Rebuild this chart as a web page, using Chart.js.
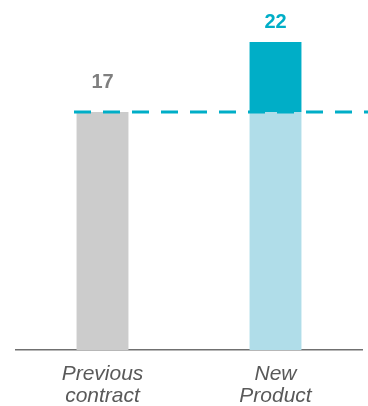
<!DOCTYPE html>
<html>
<head>
<meta charset="utf-8">
<script src="https://cdn.jsdelivr.net/npm/chart.js@4"></script>
<style>
  html, body { margin: 0; padding: 0; background: #fff; }
  #wrap { width: 368px; height: 406px; position: relative; }
</style>
</head>
<body>
<div id="wrap"><canvas id="myChart"></canvas></div>
<script>
// data
const categories = [["Previous", "contract"], ["New", "Product"]];
const baseValues = [17, 17];      // grey / light blue part
const extraValues = [null, 5];    // dark teal increase
const totals = [17, 22];
const referenceLevel = 17;        // dashed line

const teal = "#00aec7";
const grey = "#cccccc";
const lightBlue = "#b0dde9";

// dashed reference line + total labels
const extras = {
  id: "extras",
  afterDatasetsDraw(chart) {
    const ctx = chart.ctx;
    const y = chart.scales.y.getPixelForValue(referenceLevel);
    ctx.save();
    ctx.strokeStyle = teal;
    ctx.lineWidth = 3;
    ctx.setLineDash([17, 12]);
    ctx.beginPath();
    ctx.moveTo(74, y);
    ctx.lineTo(chart.width, y);
    ctx.stroke();
    ctx.setLineDash([]);

    ctx.font = "bold 20px 'Liberation Sans', Arial, sans-serif";
    ctx.textAlign = "center";
    ctx.textBaseline = "middle";
    const labelColors = ["#7f7f7f", teal];
    const gaps = [30, 20];
    totals.forEach((t, i) => {
      const x = chart.scales.x.getPixelForValue(i);
      const top = chart.scales.y.getPixelForValue(t);
      ctx.fillStyle = labelColors[i];
      ctx.fillText(String(t), x, top - gaps[i]);
    });
    ctx.restore();
  }
};

const data = {
  labels: categories,
  datasets: [
    {
      data: baseValues,
      backgroundColor: [grey, lightBlue],
      barPercentage: 0.3,
      categoryPercentage: 1,
    },
    {
      data: extraValues,
      backgroundColor: teal,
      barPercentage: 0.3,
      categoryPercentage: 1,
    },
  ],
};

const config = {
  type: "bar",
  data: data,
  options: {
    responsive: true,
    maintainAspectRatio: false,
    animation: false,
    layout: { padding: { left: 16, right: 6, top: 0, bottom: 0 } },
    plugins: {
      legend: { display: false },
      tooltip: { enabled: false },
    },
    scales: {
      x: {
        stacked: true,
        grid: { display: false },
        border: { display: true, color: "#707070", width: 1.5 },
        afterFit(scale) {
          scale.height = 56;
        },
        ticks: {
          color: "#595959",
          padding: 5,
          font: {
            family: "'Liberation Sans', Arial, sans-serif",
            size: 21,
            style: "italic",
            lineHeight: 1.05,
          },
        },
      },
      y: {
        stacked: true,
        display: false,
        min: 0,
        max: 25,
      },
    },
  },
  plugins: [extras],
};

new Chart(document.getElementById("myChart"), config);
</script>
</body>
</html>
